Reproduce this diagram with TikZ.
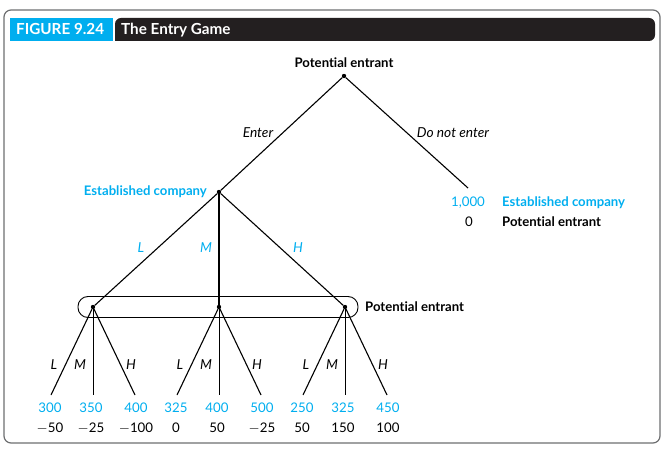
\documentclass[tikz,border=0pt]{standalone}
\usepackage{fontspec}
\setmainfont{Lato}[Ligatures=NoCommon]
\setsansfont{Lato}[Ligatures=NoCommon]
\definecolor{cyanink}{HTML}{00AEEF}
\definecolor{barblack}{HTML}{231F20}
\definecolor{framegray}{HTML}{6D6E70}
\begin{document}
\begin{tikzpicture}[x=1bp,y=-1bp,
  dot/.style={circle,fill=black,inner sep=0pt,minimum size=4.4bp},
  player/.style={font=\fontsize{13.2}{15}\selectfont\bfseries,inner sep=0pt,anchor=base},
  eplayer/.style={player,text=cyanink},
  act/.style={font=\fontsize{13.8}{16}\selectfont\itshape,inner sep=0pt,anchor=base},
  bact/.style={act,text=cyanink},
  pay/.style={font=\fontsize{13.3}{15}\selectfont,inner sep=0pt,anchor=base},
  bpay/.style={pay,text=cyanink},
  head/.style={font=\fontsize{15.3}{18}\selectfont\bfseries,text=white,anchor=base west,inner sep=0pt},
  branch/.style={line width=1.1bp},
  thinbranch/.style={line width=0.6bp},
  boldbranch/.style={line width=1.7bp}]
\useasboundingbox (0,0) rectangle (665,453);
% frame and title bar
\draw[framegray,line width=1.2bp,rounded corners=7bp] (4,10) rectangle (660,443);
\fill[cyanink] (10,18) rectangle (113,41);
\fill[barblack,rounded corners=6bp] (115,41) -- (115,18) -- (655,18) -- (655,41) -- cycle;
\fill[barblack] (115,30) rectangle (640,41);
\node[head] (fig) at (16,35) {FIGURE 9.24};
\node[head] (ttl) at (121,35) {The Entry Game};

% decision nodes
\node[dot] (root) at (344,76) {};
\node[player] (rootlbl) at (344,67.5) {Potential entrant};
\node[dot] (est) at (219,192) {};
\node[eplayer,anchor=base east] (estlbl) at (207,195.5) {Established company};
\coordinate (out) at (468,188);
\node[dot] (pL) at (93,307) {};
\node[dot] (pM) at (219,307) {};
\node[dot] (pH) at (345,307) {};

% information set
\draw[line width=0.9bp,rounded corners=10bp] (78,296.5) rectangle (358,317.5);
\node[player,anchor=base west] (infolbl) at (365,311.5) {Potential entrant};

% first stage
\draw[branch] (root) -- (est);
\draw[branch] (root) -- (out);
\node[act] (enter) at (258,137.5) {Enter};
\node[act] (noenter) at (453,137.5) {Do not enter};

% payoffs of staying out
\node[bpay] (o1) at (468,206.5) {1,000};
\node[pay] (o2) at (469,226.5) {0};
\node[eplayer,anchor=base west] (o1lbl) at (502,206.5) {Established company};
\node[player,anchor=base west] (o2lbl) at (502,226.5) {Potential entrant};

% second stage
\draw[branch] (est) -- (pL);
\draw[boldbranch] (est) -- (pM);
\draw[branch] (est) -- (pH);
\node[bact] (eL) at (141,252.5) {L};
\node[bact] (eM) at (206,252.5) {M};
\node[bact] (eH) at (298,252.5) {H};

% third stage
\foreach \p/\x/\a/\b/\c/\d/\e/\f in {pL/93/300/350/400/$-$50/$-$25/$-$100,
                                  pM/219/325/400/500/0/50/$-$25,
                                  pH/345/250/325/450/50/150/100}{
  \coordinate (\p l) at (\x-42,395);
  \coordinate (\p m) at (\x,395);
  \coordinate (\p h) at (\x+42,395);
  \draw[branch] (\p) -- (\p l);
  \draw[thinbranch] (\p) -- (\p m);
  \draw[branch] (\p) -- (\p h);
  \node[act] (\p tl) at (\x-39,369.5) {L};
  \node[act] (\p tm) at (\x-13,369.5) {M};
  \node[act] (\p th) at (\x+38,369.5) {H};
  \node[bpay] (\p a) at (\x-43,412.5) {\a};
  \node[bpay] (\p b) at (\x-2,412.5) {\b};
  \node[bpay] (\p c) at (\x+43,412.5) {\c};
  \node[pay] (\p d) at (\x-43,432.5) {\d};
  \node[pay] (\p e) at (\x-2,432.5) {\e};
  \node[pay] (\p f) at (\x+43,432.5) {\f};
}
\end{tikzpicture}
\end{document}
